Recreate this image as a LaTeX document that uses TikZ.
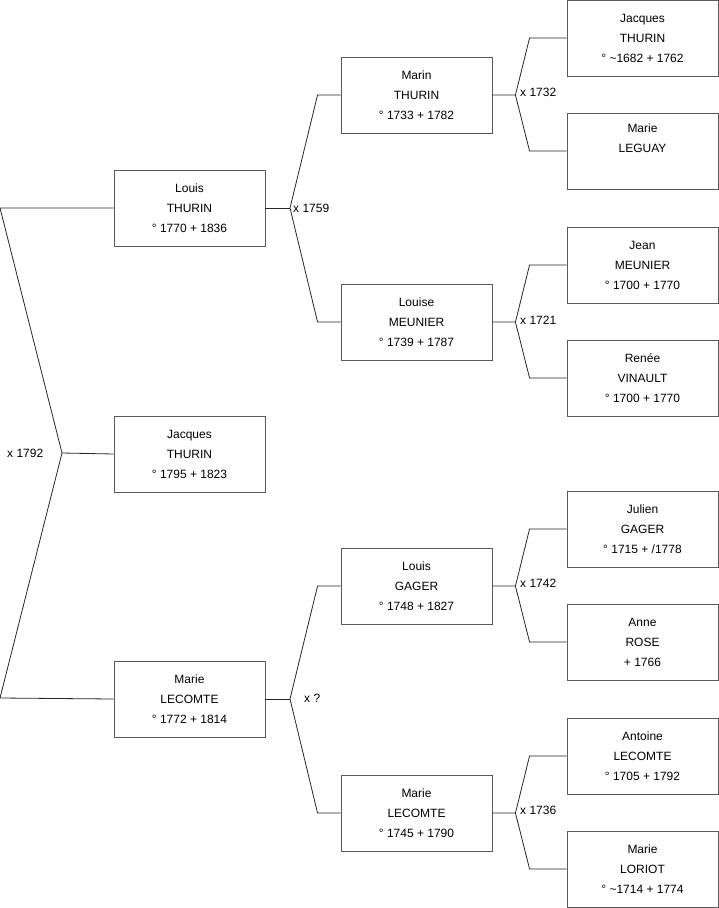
\documentclass[tikz,border=0pt]{standalone}
\usepackage{fontspec}
\setmainfont{Liberation Sans}
\usetikzlibrary{positioning,calc}

\begin{document}
\begin{tikzpicture}[
    x=1pt, y=-1pt,
    person/.style={rectangle, draw=black!65, line width=0.9pt, minimum width=151pt, minimum height=76pt, inner sep=0pt, align=center, font=\fontsize{12}{20}\selectfont},
    link/.style={draw=black!85, line width=0.8pt},
    wed/.style={font=\fontsize{12}{14}\selectfont, inner sep=0pt}
]
\useasboundingbox (0,0) rectangle (719,908);

% generation 1
\node[person] (louis) at (189.5,208) {Louis\\THURIN\\° 1770 + 1836};
\node[person] (jacques) at (189.5,454) {Jacques\\THURIN\\° 1795 + 1823};
\node[person] (marie) at (189.5,699) {Marie\\LECOMTE\\° 1772 + 1814};

% generation 2
\node[person] (marin) at (416.5,95) {Marin\\THURIN\\° 1733 + 1782};
\node[person] (louise) at (416.5,322) {Louise\\MEUNIER\\° 1739 + 1787};
\node[person] (gager) at (416.5,586) {Louis\\GAGER\\° 1748 + 1827};
\node[person] (lecomte) at (416.5,813) {Marie\\LECOMTE\\° 1745 + 1790};

% generation 3
\node[person] (jthurin) at (642.5,38) {Jacques\\THURIN\\° \textasciitilde1682 + 1762};
\node[person] (leguay) at (642.5,151) {Marie\\LEGUAY\\\strut};
\node[person] (jean) at (642.5,265) {Jean\\MEUNIER\\° 1700 + 1770};
\node[person] (renee) at (642.5,378) {Renée\\VINAULT\\° 1700 + 1770};
\node[person] (julien) at (642.5,529) {Julien\\GAGER\\° 1715 + /1778};
\node[person] (anne) at (642.5,642) {Anne\\ROSE\\+ 1766};
\node[person] (antoine) at (642.5,756) {Antoine\\LECOMTE\\° 1705 + 1792};
\node[person] (loriot) at (642.5,869) {Marie\\LORIOT\\° \textasciitilde1714 + 1774};

% fork points
\coordinate (f0) at (62,453);
\coordinate (f0a) at (0,208);
\coordinate (f0b) at (0,698);
\coordinate (f1) at (290,208);
\coordinate (f2) at (290,699);

% connectors
\draw[link] (louis.west) -- (f0a) -- (f0) -- (f0b) -- (marie.west);
\draw[link] (f0) -- (jacques.west);
\draw[link] (louis.east) -- (f1);
\draw[link] (marin.west) -- ++(-23,0) -- (f1) -- ($(louise.west)+(-23,0)$) -- (louise.west);
\draw[link] (marie.east) -- (f2);
\draw[link] (gager.west) -- ++(-23,0) -- (f2) -- ($(lecomte.west)+(-23,0)$) -- (lecomte.west);
\foreach \p/\a/\b in {marin/jthurin/leguay, louise/jean/renee, gager/julien/anne, lecomte/antoine/loriot}{
    \draw[link] (\p.east) -- ++(23,0) coordinate (k) -- ($(\a.west)+(-37,0)$) -- (\a.west);
    \draw[link] (k) -- ($(\b.west)+(-37,0)$) -- (\b.west);
}

% marriages
\node[wed, anchor=west] (m0) at (7,453) {x 1792};
\node[wed, anchor=west] (m1) at (293,208) {x 1759};
\node[wed, anchor=west] (m2) at (304,698) {x ?};
\node[wed, anchor=west] (m3) at (520,92) {x 1732};
\node[wed, anchor=west] (m4) at (520,320) {x 1721};
\node[wed, anchor=west] (m5) at (520,583) {x 1742};
\node[wed, anchor=west] (m6) at (520,810) {x 1736};

\end{tikzpicture}
\end{document}
